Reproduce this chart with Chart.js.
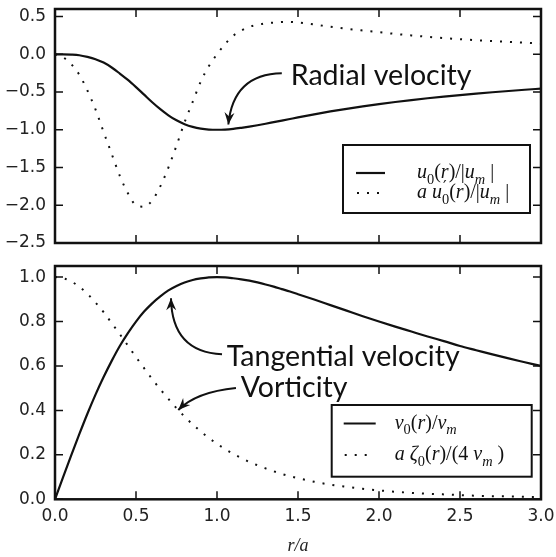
<!DOCTYPE html>
<html lang="en">
<head>
<meta charset="UTF-8" />
<title>Vortex velocity profiles</title>
<script src="https://cdn.jsdelivr.net/npm/chart.js@4"></script>
<style>
  html, body { margin: 0; padding: 0; background: #fff; }
  #wrap { position: relative; width: 556px; height: 557px; }
  #wrap canvas { position: absolute; left: 0; }
  #topChart { top: 0; }
  #botChart { top: 252px; }
</style>
</head>
<body>
<div id="wrap">
  <canvas id="topChart" width="556" height="252" style="width:556px;height:252px"></canvas>
  <canvas id="botChart" width="556" height="305" style="width:556px;height:305px"></canvas>
</div>
<script>
// r/a sample points
const rVals = [0, 0.05, 0.1, 0.15, 0.2, 0.25, 0.3, 0.35, 0.4, 0.45, 0.5, 0.55, 0.6, 0.65, 0.7, 0.75,
  0.8, 0.85, 0.9, 0.95, 1.0, 1.05, 1.1, 1.15, 1.2, 1.25, 1.3, 1.35, 1.4, 1.45, 1.5,
  1.6, 1.7, 1.8, 1.9, 2.0, 2.1, 2.2, 2.3, 2.4, 2.5, 2.6, 2.7, 2.8, 2.9, 3.0];

// top panel: u0(r)/|um| and a u0'(r)/|um|
const radialVel = [0, 0, -0.004, -0.013, -0.035, -0.065, -0.11, -0.175, -0.255, -0.34, -0.435, -0.535, -0.635, -0.727, -0.808, -0.875,
  -0.926, -0.962, -0.985, -0.997, -1.0, -0.997, -0.988, -0.974, -0.958, -0.94, -0.92, -0.899, -0.878, -0.857, -0.836,
  -0.795, -0.757, -0.722, -0.69, -0.66, -0.632, -0.606, -0.582, -0.56, -0.54, -0.521, -0.503, -0.486, -0.47, -0.455];
const radialDeriv = [0, -0.04, -0.13, -0.27, -0.48, -0.73, -1.03, -1.32, -1.61, -1.84, -2.0, -2.02, -1.935, -1.75, -1.5, -1.21,
  -0.9, -0.63, -0.36, -0.155, 0.0, 0.135, 0.245, 0.315, 0.365, 0.39, 0.41, 0.42, 0.428, 0.428, 0.422,
  0.395, 0.365, 0.338, 0.315, 0.293, 0.27, 0.25, 0.232, 0.215, 0.2, 0.187, 0.175, 0.164, 0.153, 0.143];

// bottom panel: v0(r)/vm and a zeta0(r)/(4 vm)
const tangVel = [0, 0.1, 0.198, 0.293, 0.385, 0.471, 0.55, 0.623, 0.69, 0.748, 0.8, 0.845, 0.882, 0.913, 0.94, 0.96,
  0.976, 0.987, 0.994, 0.999, 1.0, 0.999, 0.995, 0.99, 0.984, 0.976, 0.967, 0.957, 0.946, 0.935, 0.923,
  0.899, 0.874, 0.849, 0.824, 0.8, 0.777, 0.755, 0.733, 0.712, 0.69, 0.671, 0.652, 0.634, 0.617, 0.6];
const vorticity = [1.0, 0.995, 0.98, 0.957, 0.925, 0.886, 0.842, 0.793, 0.743, 0.692, 0.64, 0.59, 0.541, 0.495, 0.452, 0.41,
  0.372, 0.337, 0.305, 0.276, 0.25, 0.226, 0.205, 0.186, 0.168, 0.153, 0.139, 0.126, 0.114, 0.104, 0.095,
  0.079, 0.066, 0.056, 0.047, 0.04, 0.034, 0.029, 0.025, 0.022, 0.019, 0.016, 0.014, 0.013, 0.011, 0.01];

const xTicks = [0, 0.5, 1.0, 1.5, 2.0, 2.5, 3.0];
const yTicksTop = [-2.5, -2.0, -1.5, -1.0, -0.5, 0.0, 0.5];
const yTicksBot = [0, 0.2, 0.4, 0.6, 0.8, 1.0];

const INK = '#111';
const SERIF = '"Liberation Serif", "DejaVu Serif", serif';
const SANS = 'Lato, "Open Sans", sans-serif';

function fmtTick(v) {
  return (v < 0 ? '\u2212' : '') + Math.abs(v).toFixed(1);
}

function pts(ys) {
  return rVals.map((r, i) => ({ x: r, y: ys[i] }));
}

// frame + inward ticks on all four sides
const frameTicks = {
  id: 'frameTicks',
  afterDatasetsDraw(chart, args, opts) {
    const { ctx, chartArea: a, scales: { x, y } } = chart;
    ctx.save();
    ctx.strokeStyle = INK;
    ctx.lineWidth = 1.5;
    ctx.beginPath();
    for (const v of opts.xTicks) {
      const px = x.getPixelForValue(v);
      ctx.moveTo(px, a.bottom); ctx.lineTo(px, a.bottom - 8);
      ctx.moveTo(px, a.top); ctx.lineTo(px, a.top + 8);
    }
    for (const v of opts.yTicks) {
      const py = y.getPixelForValue(v);
      ctx.moveTo(a.left, py); ctx.lineTo(a.left + 8, py);
      ctx.moveTo(a.right, py); ctx.lineTo(a.right - 8, py);
    }
    ctx.stroke();
    ctx.lineWidth = 2.5;
    ctx.strokeRect(a.left, a.top, a.right - a.left, a.bottom - a.top);
    ctx.restore();
  }
};

// mathtext-ish label: [text, kind] with kind i=italic, r=roman, b=italic sub, n=roman sub, p=prime over last sub
function drawMath(ctx, x, y, parts, size) {
  let cx = x, subX = x;
  for (const [t, k] of parts) {
    let dy = 0;
    if (k === 'i') ctx.font = `italic ${size}px ${SERIF}`;
    else if (k === 'r') ctx.font = `${size}px ${SERIF}`;
    else if (k === 'b') { ctx.font = `italic ${size * 0.72}px ${SERIF}`; dy = size * 0.28; }
    else if (k === 'n') { ctx.font = `${size * 0.72}px ${SERIF}`; dy = size * 0.28; }
    if (k === 'p') {
      ctx.font = `${size * 0.8}px "DejaVu Serif", serif`;
      ctx.fillText(t, subX + 1, y - size * 0.3);
      continue;
    }
    if (k === 'b' || k === 'n') subX = cx;
    ctx.fillText(t, cx, y + dy);
    cx += ctx.measureText(t).width;
  }
}

const mathLegend = {
  id: 'mathLegend',
  afterDraw(chart, args, opts) {
    const { ctx, chartArea: a } = chart;
    const bx = a.right - opts.right - opts.w, by = a.bottom - opts.bottom - opts.h;
    ctx.save();
    ctx.fillStyle = '#fff';
    ctx.fillRect(bx, by, opts.w, opts.h);
    ctx.strokeStyle = INK;
    ctx.lineWidth = 2;
    ctx.strokeRect(bx, by, opts.w, opts.h);
    opts.rows.forEach((row, i) => {
      const ds = chart.data.datasets[i];
      const dotted = ds.borderDash && ds.borderDash.length;
      const ry = by + row.dy;
      ctx.strokeStyle = INK;
      ctx.lineWidth = ds.borderWidth;
      ctx.setLineDash(ds.borderDash || []);
      ctx.beginPath();
      ctx.moveTo(bx + opts.s0 + (dotted ? 1 : 0), ry);
      ctx.lineTo(bx + (dotted ? opts.s0 + 23 : opts.s1), ry);
      ctx.stroke();
      ctx.setLineDash([]);
      ctx.fillStyle = INK;
      ctx.textBaseline = 'alphabetic';
      drawMath(ctx, bx + opts.tx, ry + 5, row.parts, 20);
    });
    ctx.restore();
  }
};

function arrowHead(ctx, tx, ty, ang) {
  ctx.save();
  ctx.translate(tx, ty);
  ctx.rotate(ang);
  ctx.beginPath();
  ctx.moveTo(0, 0);
  ctx.lineTo(-12, -5);
  ctx.lineTo(-8, 0);
  ctx.lineTo(-12, 5);
  ctx.closePath();
  ctx.fill();
  ctx.restore();
}

// text annotations with curved arrows; anchors in data coordinates
const notes = {
  id: 'notes',
  afterDraw(chart, args, opts) {
    const { ctx, scales: { x, y } } = chart;
    const P = (p) => [x.getPixelForValue(p[0]), y.getPixelForValue(p[1])];
    ctx.save();
    ctx.font = `30px ${SANS}`;
    const size = 30 * 233 / ctx.measureText('Tangential velocity').width;
    ctx.font = `${size}px ${SANS}`;
    ctx.fillStyle = INK;
    ctx.strokeStyle = INK;
    ctx.lineWidth = 2;
    for (const n of opts.items) {
      const [sx, sy] = P(n.from), [cx, cy] = P(n.ctrl), [tx, ty] = P(n.tip), [lx, ly] = P(n.at);
      ctx.textBaseline = 'alphabetic';
      ctx.fillText(n.text, lx, ly);
      ctx.beginPath();
      ctx.moveTo(sx, sy);
      ctx.quadraticCurveTo(cx, cy, tx, ty);
      ctx.stroke();
      arrowHead(ctx, tx, ty, Math.atan2(ty - cy, tx - cx));
    }
    ctx.restore();
  }
};

function lineSet(label, ys, dotted) {
  return {
    label: label,
    data: pts(ys),
    borderColor: INK,
    borderWidth: dotted ? 2 : 2.2,
    borderDash: dotted ? [2, 8] : [],
    pointRadius: 0,
    cubicInterpolationMode: 'monotone',
    fill: false
  };
}

function tickSetter(vals) {
  return (s) => { s.ticks = vals.map(v => ({ value: v })); };
}

// fixed axis box sizes, no extra room for end labels
function fixY(s) { s.width = 55; s.paddingTop = 0; s.paddingBottom = 0; }
function fixX(s) { s.height = 57.7; s.paddingLeft = 0; s.paddingRight = 0; }

const tickFont = { family: '"DejaVu Sans", sans-serif', size: 17 };

new Chart(document.getElementById('topChart'), {
  type: 'line',
  data: {
    datasets: [
      lineSet('u0(r)/|um|', radialVel, false),
      lineSet("a u0'(r)/|um|", radialDeriv, true)
    ]
  },
  options: {
    responsive: false,
    animation: false,
    layout: { padding: { top: 9, right: 15, bottom: 9, left: 0 } },
    scales: {
      x: { type: 'linear', display: false, min: 0, max: 3, afterBuildTicks: tickSetter(xTicks) },
      y: {
        type: 'linear', min: -2.5, max: 0.6,
        afterBuildTicks: tickSetter(yTicksTop),
        afterFit: fixY,
        grid: { display: false, drawTicks: false },
        border: { display: false },
        ticks: { padding: 9, color: '#222', font: tickFont, callback: fmtTick }
      }
    },
    plugins: {
      legend: { display: false },
      tooltip: { enabled: false },
      frameTicks: { xTicks: xTicks, yTicks: yTicksTop },
      mathLegend: {
        right: 11, bottom: 30, w: 187, h: 68, s0: 13, s1: 42, tx: 74,
        rows: [
          { dy: 28, parts: [['u', 'i'], ['0', 'n'], ['(', 'r'], ['r', 'i'], [')/|', 'r'], ['u', 'i'], ['m', 'b'], [' |', 'r']] },
          { dy: 48, parts: [['a', 'i'], [' ', 'r'], ['u', 'i'], ['0', 'n'], ['\u2032', 'p'], ['(', 'r'], ['r', 'i'], [')/|', 'r'], ['u', 'i'], ['m', 'b'], [' |', 'r']] }
        ]
      },
      notes: {
        items: [
          { text: 'Radial velocity', at: [1.455, -0.41], from: [1.40, -0.25], ctrl: [1.10, -0.26], tip: [1.07, -0.93] }
        ]
      }
    }
  },
  plugins: [frameTicks, mathLegend, notes]
});

new Chart(document.getElementById('botChart'), {
  type: 'line',
  data: {
    datasets: [
      lineSet('v0(r)/vm', tangVel, false),
      lineSet('a zeta0(r)/(4 vm)', vorticity, true)
    ]
  },
  options: {
    responsive: false,
    animation: false,
    layout: { padding: { top: 14, right: 15, bottom: 0, left: 0 } },
    scales: {
      x: {
        type: 'linear', min: 0, max: 3,
        afterBuildTicks: tickSetter(xTicks),
        afterFit: fixX,
        grid: { display: false, drawTicks: false },
        border: { display: false },
        ticks: { padding: 7, color: '#222', font: tickFont, maxRotation: 0, callback: fmtTick },
        title: { display: true, text: 'r/a', color: '#222', padding: { top: 0, bottom: 0 },
                 font: { family: SERIF, size: 18, style: 'italic' } }
      },
      y: {
        type: 'linear', min: 0, max: 1.05,
        afterBuildTicks: tickSetter(yTicksBot),
        afterFit: fixY,
        grid: { display: false, drawTicks: false },
        border: { display: false },
        ticks: { padding: 9, color: '#222', font: tickFont, callback: fmtTick }
      }
    },
    plugins: {
      legend: { display: false },
      tooltip: { enabled: false },
      frameTicks: { xTicks: xTicks, yTicks: yTicksBot },
      mathLegend: {
        right: 9.3, bottom: 22.6, w: 200, h: 71.7, s0: 12, s1: 44, tx: 63,
        rows: [
          { dy: 18.5, parts: [['v', 'i'], ['0', 'n'], ['(', 'r'], ['r', 'i'], [')/', 'r'], ['v', 'i'], ['m', 'b']] },
          { dy: 50, parts: [['a', 'i'], [' ', 'r'], ['\u03b6', 'i'], ['0', 'n'], ['(', 'r'], ['r', 'i'], [')/(4 ', 'r'], ['v', 'i'], ['m', 'b'], [' )', 'r']] }
        ]
      },
      notes: {
        items: [
          { text: 'Tangential velocity', at: [1.06, 0.598], from: [1.031, 0.653], ctrl: [0.722, 0.663], tip: [0.716, 0.905] },
          { text: 'Vorticity', at: [1.146, 0.461], from: [1.117, 0.501], ctrl: [0.87, 0.483], tip: [0.761, 0.402] }
        ]
      }
    }
  },
  plugins: [frameTicks, mathLegend, notes]
});
</script>
</body>
</html>
